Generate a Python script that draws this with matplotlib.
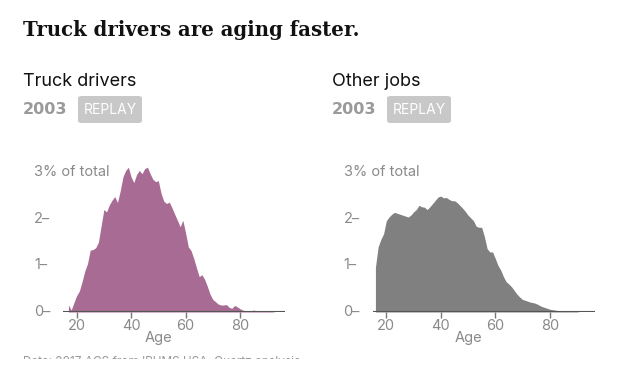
from matplotlib import pyplot as plt
from matplotlib.patches import FancyBboxPatch, Rectangle

# share of workers at each age, % of total
truck_ages = list(range(17, 94))
truck_vals = [0.15, 0.04, 0.2, 0.35, 0.45, 0.65, 0.88, 1.04, 1.33, 1.34,
              1.38, 1.5, 1.85, 2.2, 2.15, 2.3, 2.4, 2.48, 2.35, 2.6,
              2.9, 3.04, 3.11, 2.9, 2.78, 2.95, 3.04, 2.97, 3.08, 3.11,
              2.97, 2.85, 2.8, 2.82, 2.55, 2.38, 2.33, 2.36, 2.24, 2.1,
              1.97, 1.83, 1.97, 1.7, 1.4, 1.32, 1.15, 0.95, 0.76, 0.8,
              0.7, 0.55, 0.38, 0.27, 0.22, 0.17, 0.15, 0.15, 0.16, 0.1,
              0.08, 0.14, 0.11, 0.07, 0.04, 0.03, 0.02, 0.03, 0.04, 0.03,
              0.02, 0.02, 0.02, 0.02, 0.01, 0.01, 0.0]

other_ages = list(range(16, 96))
other_vals = [0.96, 1.4, 1.56, 1.68, 1.96, 2.04, 2.1, 2.14, 2.12, 2.1,
              2.08, 2.06, 2.04, 2.08, 2.15, 2.2, 2.29, 2.26, 2.25, 2.2,
              2.26, 2.33, 2.4, 2.47, 2.49, 2.45, 2.46, 2.42, 2.39, 2.39,
              2.35, 2.29, 2.23, 2.16, 2.08, 2.02, 1.96, 1.84, 1.82, 1.82,
              1.62, 1.36, 1.29, 1.29, 1.15, 1.0, 0.9, 0.76, 0.65, 0.6,
              0.54, 0.46, 0.38, 0.32, 0.27, 0.25, 0.23, 0.21, 0.2, 0.18,
              0.15, 0.12, 0.1, 0.08, 0.06, 0.05, 0.04, 0.03, 0.03, 0.02,
              0.02, 0.01, 0.01, 0.01, 0.01, 0.0, 0.0, 0.0, 0.0, 0.0]

panels = [("Truck drivers", truck_ages, truck_vals, "#a86b94"),
          ("Other jobs", other_ages, other_vals, "#808080")]
year = "2003"
x_ticks = [20, 40, 60, 80]
y_ticks = [0, 1, 2]

W, H = 640, 376
fig = plt.figure(figsize=(6.4, 3.76), dpi=100)
fig.patch.set_facecolor("white")

def px(x, y):
    return x / W, 1 - y / H

sans = ["Inter", "DejaVu Sans"]
gray = "#8a8a8a"

fig.text(*px(23, 30), "Truck drivers are aging faster.", family="DejaVu Serif",
         weight="bold", fontsize=14.2, va="center", ha="left", color="#111111")

lefts = [23, 332]
ax_x = [63, 372.7]
for (name, ages, vals, color), lx, axl in zip(panels, lefts, ax_x):
    fig.text(*px(lx, 81), name, family=sans, fontsize=13, va="center", color="#111111")
    fig.text(*px(lx, 109), year, family="DejaVu Sans", weight="bold", fontsize=11.5,
             va="center", color="#9a9a9a")
    bx0, by0 = px(lx + 55, 123)
    box = FancyBboxPatch((bx0, by0), 64 / W, 27 / H, transform=fig.transFigure,
                         boxstyle="round,pad=0,rounding_size=0.006",
                         facecolor="#c8c8c8", edgecolor="none")
    fig.patches.append(box)
    fig.text(*px(lx + 87, 109.5), "REPLAY", family=sans, fontsize=10,
             ha="center", va="center", color="white")

    b = (H - 312) / H
    top = (H - 163) / H
    ax = fig.add_axes([axl / W, b, 222 / W, top - b])
    ax.fill_between(ages, vals, 0, color=color, linewidth=0)
    ax.set_xlim(15, 96.5)
    ax.set_ylim(0, 3.2)
    for s in ax.spines.values():
        s.set_visible(False)
    ax.axhline(0, color="#555555", linewidth=1.5, zorder=3)
    ax.set_yticks([])
    ax.set_xticks(x_ticks)
    ax.set_xticklabels([str(t) for t in x_ticks], family=sans, fontsize=10.5, color=gray)
    ax.tick_params(axis="x", length=4, width=1, color="#777777", pad=1)
    ax.patch.set_alpha(0)
    tr = ax.get_yaxis_transform()
    for t in y_ticks:
        ax.text(-0.131, t, "%d\u2013" % t, transform=tr, family=sans, fontsize=10.5,
                color=gray, va="center", ha="left")
    ax.text(-0.131, 3.0, "3% of total", transform=tr, family=sans, fontsize=10.5,
            color=gray, va="center", ha="left")
    ax.text(50, -0.55, "Age", family=sans, fontsize=10.5, color=gray,
            ha="center", va="center", transform=ax.transData)

fig.text(*px(23, 362), "Data: 2017 ACS from IPUMS USA, Quartz analysis", family=sans,
         fontsize=8.5, color="#999999", va="center")
fig.patches.append(Rectangle((0, 0), 1, (H - 359) / H, transform=fig.transFigure,
                             facecolor="white", edgecolor="none", zorder=10))

fig.savefig("out.png", dpi=100)
